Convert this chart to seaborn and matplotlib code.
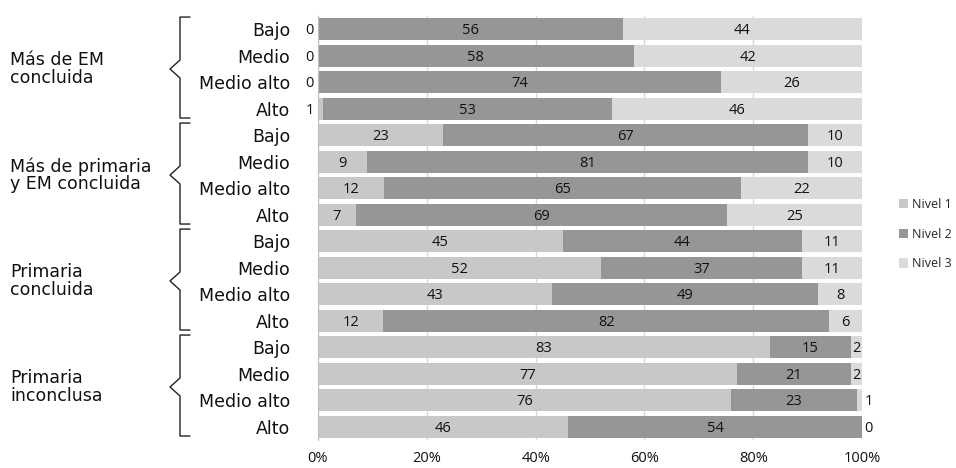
import matplotlib
matplotlib.use('Agg')
import matplotlib.pyplot as plt
import matplotlib.transforms as mtransforms
from matplotlib.patches import Patch
import seaborn as sns
import pandas as pd

# datos (porcentajes por nivel)
grupos = ['Más de EM\nconcluida', 'Más de primaria\ny EM concluida',
          'Primaria\nconcluida', 'Primaria\ninconclusa']
niveles_ses = ['Bajo', 'Medio', 'Medio alto', 'Alto']
nivel_1 = [0, 0, 0, 1, 23, 9, 12, 7, 45, 52, 43, 12, 83, 77, 76, 46]
nivel_2 = [56, 58, 74, 53, 67, 81, 65, 69, 44, 37, 49, 82, 15, 21, 23, 54]
nivel_3 = [44, 42, 26, 46, 10, 10, 22, 25, 11, 11, 8, 6, 2, 2, 1, 0]
leyenda = ['Nivel 1', 'Nivel 2', 'Nivel 3']
colores = ['#C8C8C8', '#969696', '#DADADA']

filas = [f'{g}|{s}' for g in range(len(grupos)) for s in niveles_ses]
df = pd.DataFrame({'fila': filas, 'n1': nivel_1, 'n2': nivel_2, 'n3': nivel_3})
total = df[['n1', 'n2', 'n3']].sum(axis=1)
df['p1'] = df['n1'] / total * 100
df['p12'] = (df['n1'] + df['n2']) / total * 100
df['p123'] = (df['n1'] + df['n2'] + df['n3']) / total * 100

sns.set_style('white')
plt.rcParams['font.family'] = ['DejaVu Sans']

fig = plt.figure(figsize=(9.56, 4.68), dpi=100)
ax = fig.add_axes([318 / 956, 28 / 468, 544 / 956, 424 / 468])

# barras apiladas: se dibuja el acumulado de atrás hacia adelante
for col, color in zip(['p123', 'p12', 'p1'], [colores[2], colores[1], colores[0]]):
    sns.barplot(data=df, x=col, y='fila', order=filas, orient='h', color=color,
                saturation=1, width=0.82, errorbar=None, linewidth=0, ax=ax)

ax.set_xlim(0, 100)
ax.set_ylim(15.5, -0.5)
ax.set_xlabel('')
ax.set_ylabel('')
ax.set_axisbelow(True)
ax.grid(axis='x', color='#D9D9D9', linewidth=1)
ax.grid(axis='y', visible=False)
for s in ['top', 'right', 'bottom']:
    ax.spines[s].set_visible(False)
ax.spines['left'].set_color('#BFBFBF')

ax.set_xticks(range(0, 101, 20))
ax.set_xticklabels([f'{v}%' for v in range(0, 101, 20)], family='Open Sans',
                   fontsize=10.5, color='#111111')
ax.tick_params(axis='x', length=0, pad=8)
ax.set_yticks(range(len(filas)))
ax.set_yticklabels(niveles_ses * len(grupos), fontsize=12.5, color='#111111')
ax.tick_params(axis='y', which='major', length=0, pad=20)
ax.set_yticks([i - 0.5 for i in range(len(filas) + 1)], minor=True)
ax.tick_params(axis='y', which='minor', length=4, color='#BFBFBF', width=1)

# etiquetas de datos
for i, r in df.iterrows():
    x1 = r['p1'] / 2 if r['n1'] >= 2 else -1.5
    x2 = (r['p1'] + r['p12']) / 2
    x3 = (r['p12'] + r['p123']) / 2 if r['n3'] >= 2 else 101.2
    for x, v in [(x1, r['n1']), (x2, r['n2']), (x3, r['n3'])]:
        ax.text(x, i + 0.06, f'{int(v)}', ha='center', va='center', fontsize=10.5,
                family='Open Sans', color='#111111', clip_on=False)

# llaves y nombres de grupo
blend = mtransforms.blended_transform_factory(fig.transFigure, ax.transData)
for g, nombre in enumerate(grupos):
    top, bot, mid, d = 4 * g - 0.46, 4 * g + 3.35, 4 * g + 1.5, 0.34
    xs = [190, 180, 180, 170, 180, 180, 190]
    ys = [top, top, mid - d, mid, mid + d, bot, bot]
    ax.plot([x / 956 for x in xs], ys, color='#222222', linewidth=1,
            transform=blend, clip_on=False)
    ax.text(10 / 956, mid, nombre, transform=blend, ha='left', va='center',
            fontsize=12.5, linespacing=0.95, color='#111111')

handles = [Patch(facecolor=c, edgecolor='none', label=l) for c, l in zip(colores, leyenda)]
fig.legend(handles=handles, loc='center left', bbox_to_anchor=(899 / 956, 0.5),
           frameon=False, prop={'family': 'Open Sans', 'size': 9},
           borderpad=0, borderaxespad=0, handlelength=0.75, handleheight=0.75,
           handletextpad=0.3, labelspacing=1.35)

fig.savefig('out.png', dpi=100)
